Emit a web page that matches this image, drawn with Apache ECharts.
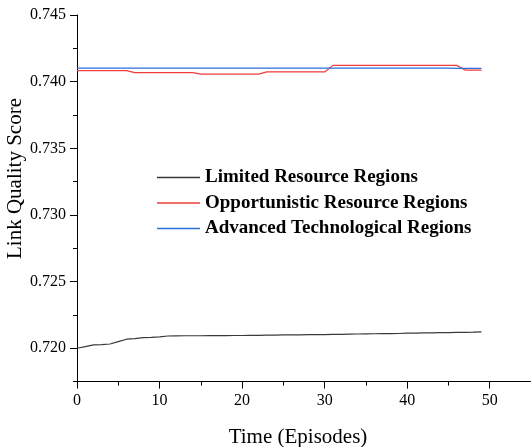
<!DOCTYPE html>
<html>
<head>
<meta charset="utf-8">
<script src="https://cdn.jsdelivr.net/npm/echarts@6/dist/echarts.min.js"></script>
<style>
  html, body { margin: 0; padding: 0; background: #fff; }
  #chart { width: 531px; height: 447px; }
</style>
</head>
<body>
<div id="chart"></div>
<script>
// Episode index 0..49
const episodes = [0,1,2,3,4,5,6,7,8,9,10,11,12,13,14,15,16,17,18,19,20,21,22,23,24,25,26,27,28,29,30,31,32,33,34,35,36,37,38,39,40,41,42,43,44,45,46,47,48,49];

const limitedResource = [
  0.72000, 0.72012, 0.72025, 0.72028, 0.72032, 0.72050, 0.72068, 0.72072, 0.72080, 0.72082,
  0.72085, 0.72092, 0.72093, 0.72094, 0.72094, 0.72094, 0.72095, 0.72095, 0.72095, 0.72096,
  0.72096, 0.72097, 0.72097, 0.72098, 0.72099, 0.72100, 0.72100, 0.72101, 0.72102, 0.72102,
  0.72103, 0.72104, 0.72105, 0.72106, 0.72107, 0.72108, 0.72109, 0.72110, 0.72110, 0.72111,
  0.72113, 0.72114, 0.72115, 0.72116, 0.72117, 0.72118, 0.72119, 0.72120, 0.72121, 0.72123
];

const opportunisticResource = [
  0.74083, 0.74083, 0.74083, 0.74083, 0.74083, 0.74083, 0.74083, 0.74068, 0.74068, 0.74068,
  0.74068, 0.74068, 0.74068, 0.74068, 0.74068, 0.74057, 0.74057, 0.74057, 0.74057, 0.74057,
  0.74057, 0.74057, 0.74057, 0.74073, 0.74073, 0.74073, 0.74073, 0.74073, 0.74073, 0.74073,
  0.74073, 0.74122, 0.74122, 0.74122, 0.74122, 0.74122, 0.74122, 0.74122, 0.74122, 0.74122,
  0.74122, 0.74122, 0.74122, 0.74122, 0.74122, 0.74122, 0.74122, 0.74087, 0.74087, 0.74087
];

const advancedTechnological = [
  0.74102, 0.74102, 0.74102, 0.74102, 0.74102, 0.74102, 0.74102, 0.74102, 0.74102, 0.74102,
  0.74102, 0.74102, 0.74102, 0.74102, 0.74102, 0.74102, 0.74102, 0.74102, 0.74102, 0.74102,
  0.74102, 0.74102, 0.74102, 0.74102, 0.74102, 0.74102, 0.74102, 0.74102, 0.74102, 0.74102,
  0.74101, 0.74101, 0.74101, 0.74101, 0.74101, 0.74101, 0.74101, 0.74101, 0.74101, 0.74101,
  0.74101, 0.74101, 0.74101, 0.74101, 0.74101, 0.74101, 0.74100, 0.74100, 0.74100, 0.74100
];

const seriesNames = ['Limited Resource Regions', 'Opportunistic Resource Regions', 'Advanced Technological Regions'];
const seriesColors = ['#3a3a3a', '#f03c3c', '#2a6fdc'];

// Tick positions
const xMajorTicks = [0, 10, 20, 30, 40, 50];
const xMinorTicks = [5, 15, 25, 35, 45];
const yMajorTicks = [0.720, 0.725, 0.730, 0.735, 0.740, 0.745];
const yMinorTicks = [0.7175, 0.7225, 0.7275, 0.7325, 0.7375, 0.7425];

const FONT = 'Liberation Serif';
const pairs = (ys) => episodes.map((x, i) => [x, ys[i]]);

const chart = echarts.init(document.getElementById('chart'), null, { renderer: 'canvas' });

const xRange = { min: 0, max: 55 };
const yRange = { min: 0.7175, max: 0.745 };
// Tick labels are drawn through a rich style so the serif face is applied
const tickRich = { t: { fontFamily: FONT, fontSize: 16, color: '#000' } };

chart.setOption({
  animation: false,
  backgroundColor: '#ffffff',
  textStyle: { fontFamily: FONT },
  grid: { left: 77, right: -3, top: 15, bottom: 65.4, containLabel: false },
  legend: {
    orient: 'vertical',
    left: 157,
    top: 167.5,
    padding: 0,
    icon: 'rect',
    itemWidth: 43,
    itemHeight: 1.3,
    itemGap: 5.5,
    data: seriesNames,
    textStyle: { fontFamily: FONT, fontSize: 19, fontWeight: 'bold', color: '#000', lineHeight: 20 }
  },
  xAxis: [
    {
      type: 'value', ...xRange, position: 'bottom',
      splitLine: { show: false },
      axisLine: { show: true, onZero: false, lineStyle: { color: '#000', width: 1 } },
      axisTick: { show: true, inside: false, length: 7, customValues: xMajorTicks, lineStyle: { color: '#000' } },
      axisLabel: { show: true, customValues: xMajorTicks, margin: 11, fontFamily: FONT, fontSize: 16, color: '#000',
                   formatter: (v) => '{t|' + v + '}', rich: tickRich }
    },
    {
      type: 'value', ...xRange, position: 'bottom', offset: 0,
      splitLine: { show: false },
      axisLine: { show: false, onZero: false },
      axisTick: { show: true, inside: false, length: 4, customValues: xMinorTicks, lineStyle: { color: '#000' } },
      axisLabel: { show: false }
    }
  ],
  yAxis: [
    {
      type: 'value', ...yRange, position: 'left',
      splitLine: { show: false },
      axisLine: { show: true, onZero: false, lineStyle: { color: '#000', width: 1 } },
      axisTick: { show: true, inside: false, length: 7, customValues: yMajorTicks, lineStyle: { color: '#000' } },
      axisLabel: { show: true, customValues: yMajorTicks, margin: 11, fontFamily: FONT, fontSize: 16, color: '#000',
                   formatter: (v) => '{t|' + v.toFixed(3) + '}', rich: tickRich }
    },
    {
      type: 'value', ...yRange, position: 'left', offset: 0,
      splitLine: { show: false },
      axisLine: { show: false, onZero: false },
      axisTick: { show: true, inside: false, length: 4, customValues: yMinorTicks, lineStyle: { color: '#000' } },
      axisLabel: { show: false }
    }
  ],
  graphic: [
    {
      type: 'text', x: 15.5, y: 178.5, rotation: Math.PI / 2,
      style: { text: 'Link Quality Score', fontFamily: FONT, fontSize: 21, fill: '#000', align: 'center', verticalAlign: 'middle' }
    },
    {
      type: 'text', x: 298, y: 437,
      style: { text: 'Time (Episodes)', fontFamily: FONT, fontSize: 21, fill: '#000', align: 'center', verticalAlign: 'middle' }
    }
  ],
  series: seriesNames.map((name, k) => ({
    name, type: 'line', xAxisIndex: 0, yAxisIndex: 0,
    data: pairs([limitedResource, opportunisticResource, advancedTechnological][k]),
    symbol: 'none', smooth: false,
    lineStyle: { color: seriesColors[k], width: 1.2 },
    itemStyle: { color: seriesColors[k] }
  }))
});
</script>
</body>
</html>
